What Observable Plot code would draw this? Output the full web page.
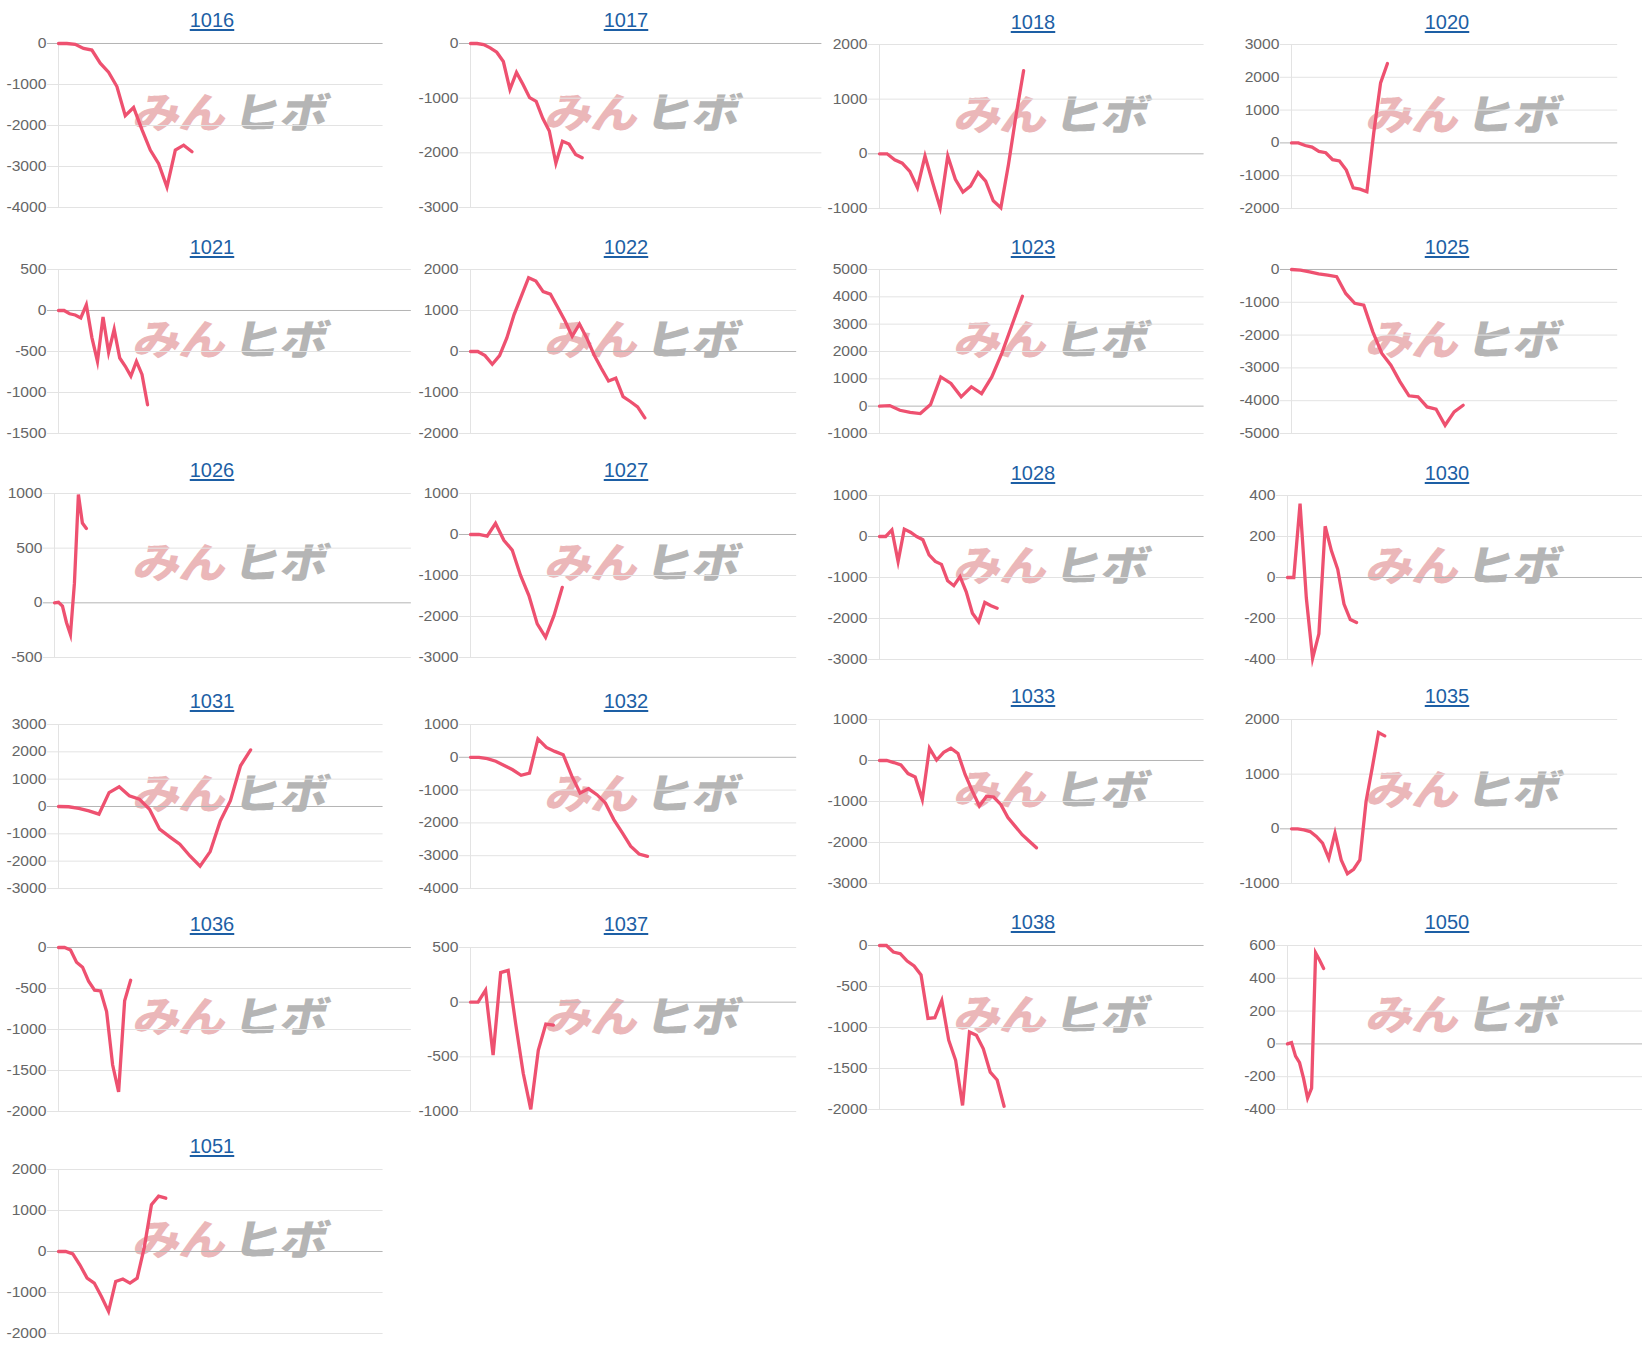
<!DOCTYPE html>
<html><head><meta charset="utf-8">
<script src="https://cdn.jsdelivr.net/npm/d3@7"></script>
<script src="https://cdn.jsdelivr.net/npm/@observablehq/plot@0.6"></script>
<style>
html,body{margin:0;padding:0;background:#fff;}
body{width:1642px;height:1350px;overflow:hidden;position:relative;font-family:"Liberation Sans",Arial,sans-serif;}
.title{position:absolute;width:200px;margin-left:-100px;text-align:center;font-size:20px;line-height:24px;color:#1d5fa5;text-decoration:underline;text-underline-offset:2px;}
.wm{position:absolute;white-space:nowrap;font-family:"Noto Sans CJK JP",sans-serif;font-weight:900;font-size:42px;line-height:44px;transform:skewX(-12deg) scaleX(1.12);transform-origin:left bottom;}
.wm .a{color:#ebb7b9;letter-spacing:-1px;}
.wm .b{color:#b5b5b5;margin-left:7px;letter-spacing:0px;}
</style></head><body>
<script>
// ---- data ----
const labels = ["1016","1017","1018","1020","1021","1022","1023","1025","1026","1027","1028","1030","1031","1032","1033","1035","1036","1037","1038","1050","1051"];

const s1016 = [0, 0, -20, -120, -160, -480, -700, -1050, -1760, -1560, -2100, -2600, -2930, -3500, -2600, -2480, -2640];
const s1017 = [0, 0, -20, -80, -160, -330, -840, -530, -750, -990, -1060, -1370, -1600, -2190, -1790, -1840, -2030, -2090];
const s1018 = [0, 0, -110, -170, -320, -620, -40, -525, -985, -40, -465, -700, -590, -345, -500, -860, -985, -200, 700, 1520];
const s1020 = [0, 0, -80, -130, -260, -300, -510, -550, -830, -1370, -1410, -1490, 300, 1830, 2420];
const s1021 = [0, 0, -40, -55, -90, 70, -330, -620, -80, -510, -230, -580, -680, -800, -620, -780, -1150];
const s1022 = [0, 0, -100, -310, -100, 330, 900, 1350, 1800, 1720, 1460, 1400, 1080, 750, 370, 670, 330, -80, -410, -720, -650, -1100, -1220, -1350, -1620];
const s1023 = [0, 20, -150, -230, -270, 60, 1070, 830, 340, 710, 460, 1070, 1950, 2990, 4020];
const s1025 = [0, -20, -70, -130, -170, -220, -730, -1030, -1090, -1900, -2560, -2920, -3420, -3850, -3880, -4190, -4260, -4750, -4340, -4140];
const s1026 = [0, 5, -30, -180, -290, 180, 990, 730, 680];
const s1027 = [0, 0, -40, 270, -140, -380, -1000, -1490, -2180, -2510, -1980, -1290];
const s1028 = [0, 0, 160, -610, 180, 105, 0, -80, -450, -610, -680, -1080, -1200, -980, -1350, -1870, -2080, -1610, -1690, -1750];
const s1030 = [0, 0, 360, -100, -395, -275, 250, 130, 40, -130, -205, -220];
const s1031 = [0, -10, -70, -160, -280, 510, 720, 390, 270, -100, -830, -1110, -1380, -1810, -2180, -1650, -530, 210, 1490, 2070];
const s1032 = [0, 0, -40, -120, -250, -380, -550, -480, 560, 300, 180, 80, -560, -1090, -960, -1140, -1390, -1900, -2300, -2710, -2950, -3020];
const s1033 = [0, 0, -50, -110, -320, -400, -950, 300, 10, 200, 300, 170, -340, -740, -1110, -870, -890, -1070, -1390, -1600, -1810, -1970, -2130];
const s1035 = [0, 0, -20, -50, -140, -260, -540, -80, -570, -820, -740, -570, 500, 1120, 1760, 1700];
const s1036 = [0, 0, -30, -180, -240, -410, -520, -530, -780, -1430, -1760, -650, -400];
const s1037 = [0, 0, 110, -485, 270, 290, -200, -650, -980, -440, -200, -210];
const s1038 = [0, 0, -80, -100, -190, -250, -360, -890, -880, -670, -1155, -1400, -1950, -1055, -1095, -1260, -1545, -1640, -1960];
const s1050 = [0, 8, -75, -115, -210, -330, -270, 555, 510, 460];
const s1051 = [0, 0, -60, -330, -650, -770, -1100, -1460, -730, -670, -770, -650, 100, 1140, 1350, 1300];

const series = [s1016, s1017, s1018, s1020, s1021, s1022, s1023, s1025, s1026, s1027, s1028, s1030, s1031, s1032, s1033, s1035, s1036, s1037, s1038, s1050, s1051];

// y-axis tick labels: min, max, step
const tickMin  = [-4000, -3000, -1000, -2000, -1500, -2000, -1000, -5000, -500, -3000, -3000, -400, -3000, -4000, -3000, -1000, -2000, -1000, -2000, -400, -2000];
const tickMax  = [0, 0, 2000, 3000, 500, 2000, 5000, 0, 1000, 1000, 1000, 400, 3000, 1000, 1000, 2000, 0, 500, 0, 600, 2000];
const tickStep = [1000, 1000, 1000, 1000, 500, 1000, 1000, 1000, 500, 1000, 1000, 200, 1000, 1000, 1000, 1000, 500, 500, 500, 200, 1000];

// x-axis extent (number of x slots) per chart
const xSlots = [38.9, 53.5, 42.8, 47.6, 63.4, 44.9, 31.8, 36.1, 89.6, 39.1, 52.4, 57.9, 32.1, 38.7, 45.5, 52.5, 58.7, 43.3, 46.9, 90.5, 45.4];

// ---- layout ----
const colAxis = [57.6, 469.6, 878.6, 1290.6];
const colRight = [382.2, 795.8, 1203.2, 1616.8];
const colRightWide = [410.5, 821, 1231, 1650];
const colTitle = [212, 626, 1033, 1447];
const plotTops = [[42.7, 44.3], [269.3, 269.3], [492.6, 495.3], [723.7, 719], [946.7, 944.5], [1169, 1169]];
const wide = new Set(["1017", "1021", "1026", "1030", "1036", "1050"]);
const PH = 164, MT = 12, MB = 10, ML = 56, MR = 4;
const FONT = "'Liberation Sans', Arial, sans-serif";

labels.forEach((lab, i) => {
  const col = i % 4, row = Math.floor(i / 4);
  const plotTop = plotTops[row][col < 2 ? 0 : 1];

  const title = document.createElement("div");
  title.className = "title";
  title.textContent = lab;
  title.style.left = colTitle[col] + "px";
  title.style.top = (plotTop - 34.6) + "px";
  document.body.appendChild(title);

  const wm = document.createElement("div");
  wm.className = "wm";
  wm.innerHTML = '<span class="a">みん</span><span class="b">ヒボ</span>';
  wm.style.left = (colAxis[col] + 73) + "px";
  wm.style.top = (plotTop + 45.5) + "px";
  document.body.appendChild(wm);

  const ticks = d3.range(tickMin[i], tickMax[i] + tickStep[i] / 2, tickStep[i]);
  const maxLen = d3.max(ticks, t => String(t).length);
  const axisX = colAxis[col] - (maxLen < 5 ? 4 : 0);
  const right = wide.has(lab) ? colRightWide[col] : colRight[col];
  const w = ML + (right - axisX) + MR;
  const data = series[i].map((v, k) => ({k, v}));

  const svg = Plot.plot({
    width: w,
    height: MT + PH + MB,
    marginLeft: ML, marginRight: MR, marginTop: MT, marginBottom: MB,
    style: {background: "transparent", overflow: "visible", fontFamily: FONT, fontSize: "14px", color: "#666"},
    x: {domain: [0, xSlots[i]], axis: null},
    y: {domain: [tickMin[i], tickMax[i]], label: null},
    marks: [
      Plot.ruleY(ticks.filter(t => t !== 0), {stroke: "#e3e3e3", strokeWidth: 1, insetLeft: -11}),
      Plot.ruleX([0], {stroke: "#e3e3e3", strokeWidth: 1}),
      Plot.ruleY(ticks.filter(t => t === 0), {stroke: "#b5b5b5", strokeWidth: 1, insetLeft: -11}),
      Plot.axisY({ticks, tickSize: 0, tickPadding: 12, tickFormat: d => String(d), fontSize: 14, color: "#666", label: null}),
      Plot.line(data, {x: "k", y: "v", stroke: "#ee5170", strokeWidth: 3.3, strokeLinejoin: "miter", strokeMiterlimit: 6})
    ]
  });
  // widen the tick labels a little (the source canvas is stretched horizontally)
  svg.querySelectorAll('g[aria-label="y-axis tick label"] text').forEach(t => {
    const tr = t.getAttribute("transform");
    if (tr) {
      t.setAttribute("transform", tr + " scale(1.12,1)");
    } else {
      const x = +(t.getAttribute("x") || 0), y = +(t.getAttribute("y") || 0);
      t.setAttribute("x", 0); t.setAttribute("y", 0);
      t.setAttribute("transform", `translate(${x},${y}) scale(1.12,1)`);
    }
  });
  svg.style.position = "absolute";
  svg.style.left = (axisX - ML) + "px";
  svg.style.top = (plotTop - MT) + "px";
  svg.style.maxWidth = "none";
  document.body.appendChild(svg);
});
</script>
</body></html>
